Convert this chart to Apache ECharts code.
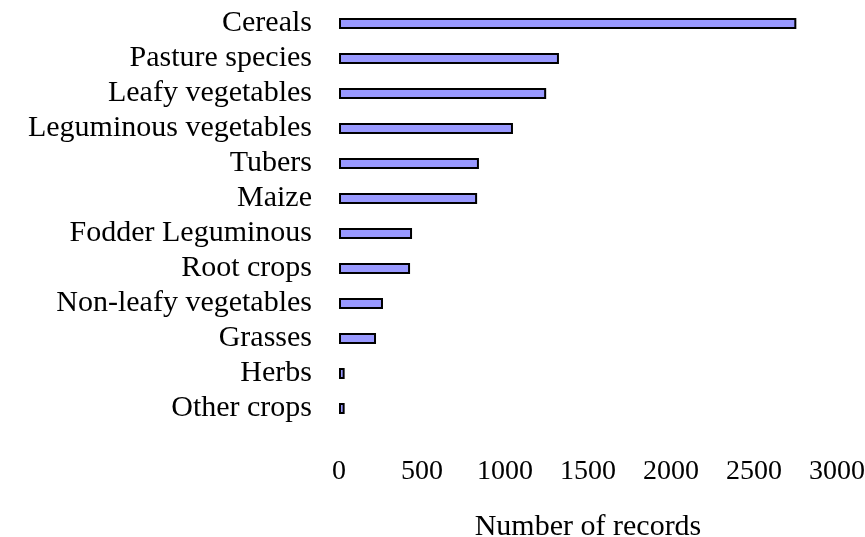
<!DOCTYPE html>
<html>
<head>
<meta charset="utf-8">
<script src="https://cdn.jsdelivr.net/npm/echarts@6/dist/echarts.min.js"></script>
<style>
  html, body { margin: 0; padding: 0; background: #ffffff; }
  #chart { width: 865px; height: 537px; }
</style>
</head>
<body>
<div id="chart"></div>
<script>
const categories = ['Cereals', 'Pasture species', 'Leafy vegetables', 'Leguminous vegetables', 'Tubers', 'Maize',
  'Fodder Leguminous', 'Root crops', 'Non-leafy vegetables', 'Grasses', 'Herbs', 'Other crops'];
const records = [2755, 1325, 1248, 1048, 843, 832, 440, 428, 265, 223, 34, 34];
const xTicks = [0, 500, 1000, 1500, 2000, 2500, 3000];

const chart = echarts.init(document.getElementById('chart'));
const font = '"Liberation Serif", "Times New Roman", serif';

const option = {
    animation: false,
    grid: { left: 339, right: 28, top: 6, height: 420, outerBoundsMode: 'none', containLabel: false },
    xAxis: {
        type: 'value',
        min: xTicks[0],
        max: xTicks[xTicks.length - 1],
        interval: 500,
        name: 'Number of records',
        nameLocation: 'middle',
        nameGap: 86,
        nameTextStyle: { fontFamily: font, fontSize: 30, color: '#000' },
        axisLine: { show: false },
        axisTick: { show: false },
        splitLine: { show: false },
        axisLabel: { fontFamily: font, fontSize: 28, color: '#000', margin: 32, formatter: v => String(v) }
    },
    yAxis: {
        type: 'category',
        data: categories,
        inverse: true,
        axisLine: { show: false },
        axisTick: { show: false },
        axisLabel: { fontFamily: font, fontSize: 30, color: '#000', margin: 27, interval: 0 }
    },
    series: [{
        type: 'bar',
        data: records,
        barWidth: 11,
        itemStyle: { color: '#9999ff', borderColor: '#000', borderWidth: 2 }
    }]
};

chart.setOption(option);
</script>
</body>
</html>
